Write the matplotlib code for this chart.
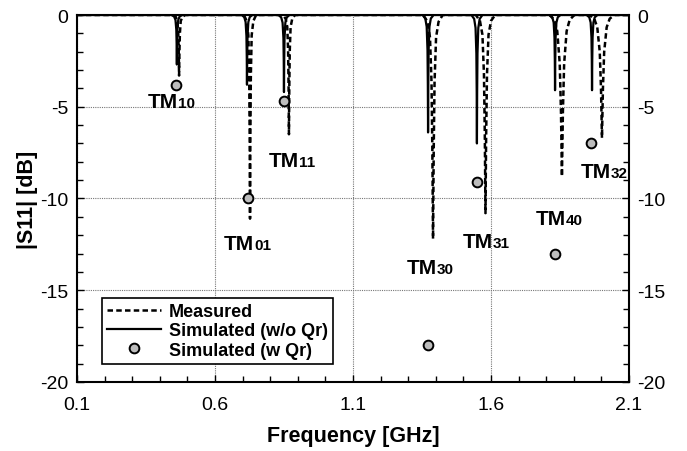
import matplotlib
matplotlib.use("Agg")
import matplotlib.pyplot as plt
from matplotlib.ticker import MultipleLocator

plt.rcParams['font.family'] = ['Liberation Sans', 'DejaVu Sans']
plt.rcParams['axes.unicode_minus'] = False

# measured |S11| (dashed)
meas_f = [0.100,
          0.448, 0.458, 0.464, 0.467, 0.4687, 0.470, 0.4713, 0.473, 0.476, 0.482, 0.492,
          0.705, 0.715, 0.721, 0.724, 0.7257, 0.727, 0.7283, 0.730, 0.733, 0.739, 0.749,
          0.846, 0.856, 0.862, 0.865, 0.8667, 0.868, 0.8693, 0.871, 0.874, 0.880, 0.890,
          1.355, 1.370, 1.379, 1.3845, 1.3875, 1.390, 1.3925, 1.3955, 1.401, 1.410, 1.425,
          1.545, 1.560, 1.569, 1.5745, 1.5775, 1.580, 1.5825, 1.5855, 1.591, 1.600, 1.615,
          1.812, 1.829, 1.840, 1.849, 1.8535, 1.857, 1.8605, 1.865, 1.874, 1.885, 1.902,
          1.957, 1.974, 1.985, 1.994, 1.9985, 2.002, 2.0055, 2.010, 2.019, 2.030, 2.047,
          2.100]
meas_db = [0,
           0, -0.10, -0.33, -0.99, -1.98, -3.3, -1.98, -0.99, -0.33, -0.10, 0,
           0, -0.33, -1.11, -3.33, -6.66, -11.1, -6.66, -3.33, -1.11, -0.33, 0,
           0, -0.20, -0.65, -1.95, -3.90, -6.5, -3.90, -1.95, -0.65, -0.20, 0,
           0, -0.37, -1.22, -3.66, -7.32, -12.2, -7.32, -3.66, -1.22, -0.37, 0,
           0, -0.32, -1.08, -3.24, -6.48, -10.8, -6.48, -3.24, -1.08, -0.32, 0,
           0, -0.26, -0.88, -2.64, -5.28, -8.8, -5.28, -2.64, -0.88, -0.26, 0,
           0, -0.20, -0.67, -2.01, -4.02, -6.7, -4.02, -2.01, -0.67, -0.20, 0,
           0]

# simulated without Qr (solid)
sim_f = [0.100,
         0.442, 0.452, 0.457, 0.460, 0.4612, 0.462, 0.4628, 0.464, 0.467, 0.472, 0.482,
         0.696, 0.706, 0.711, 0.714, 0.7152, 0.716, 0.7168, 0.718, 0.721, 0.726, 0.736,
         0.830, 0.840, 0.845, 0.848, 0.8492, 0.850, 0.8508, 0.852, 0.855, 0.860, 0.870,
         1.352, 1.362, 1.367, 1.370, 1.3712, 1.372, 1.3728, 1.374, 1.377, 1.382, 1.392,
         1.529, 1.539, 1.544, 1.547, 1.5482, 1.549, 1.5498, 1.551, 1.554, 1.559, 1.569,
         1.812, 1.822, 1.827, 1.830, 1.8312, 1.832, 1.8328, 1.834, 1.837, 1.842, 1.852,
         1.946, 1.956, 1.961, 1.964, 1.9652, 1.966, 1.9668, 1.968, 1.971, 1.976, 1.986,
         2.100]
sim_db = [0,
          0, -0.08, -0.27, -0.81, -1.62, -2.7, -1.62, -0.81, -0.27, -0.08, 0,
          0, -0.11, -0.38, -1.14, -2.28, -3.8, -2.28, -1.14, -0.38, -0.11, 0,
          0, -0.13, -0.42, -1.26, -2.52, -4.2, -2.52, -1.26, -0.42, -0.13, 0,
          0, -0.19, -0.64, -1.92, -3.84, -6.4, -3.84, -1.92, -0.64, -0.19, 0,
          0, -0.21, -0.70, -2.10, -4.20, -7.0, -4.20, -2.10, -0.70, -0.21, 0,
          0, -0.12, -0.41, -1.23, -2.46, -4.1, -2.46, -1.23, -0.41, -0.12, 0,
          0, -0.12, -0.41, -1.23, -2.46, -4.1, -2.46, -1.23, -0.41, -0.12, 0,
          0]

# simulated with Qr (points)
modes = ['10', '01', '11', '30', '31', '40', '32']
qr_f = [0.459, 0.720, 0.850, 1.372, 1.549, 1.832, 1.962]
qr_db = [-3.8, -10.0, -4.7, -18.0, -9.1, -13.0, -7.0]

# mode label anchor (where "TM" ends and the index starts)
lab_f = [0.466, 0.741, 0.904, 1.404, 1.607, 1.872, 2.035]
lab_db = [-5.01, -12.75, -8.23, -14.06, -12.64, -11.39, -8.83]

fig = plt.figure(figsize=(6.87, 4.52), dpi=100)
ax = fig.add_axes([0.112, 0.1527, 0.8036, 0.8119])

ax.plot(meas_f, meas_db, color='black', lw=1.8, linestyle=(0, (2.2, 1.3)),
        label='Measured', zorder=3)
ax.plot(sim_f, sim_db, color='black', lw=1.6, label='Simulated (w/o Qr)', zorder=3)
ax.plot(qr_f, qr_db, 'o', ms=7, mfc='#bdbdbd', mec='black', mew=1.4,
        label='Simulated (w Qr)', zorder=4)

for m, f, d in zip(modes, lab_f, lab_db):
    ax.text(f, d, 'TM', ha='right', va='baseline', fontsize=15, fontweight='bold')
    ax.text(f, d, m, ha='left', va='baseline', fontsize=11, fontweight='bold')

ax.set_xlim(0.1, 2.1)
ax.set_ylim(-20, 0)
ax.xaxis.set_major_locator(MultipleLocator(0.5))
ax.xaxis.set_minor_locator(MultipleLocator(0.1))
ax.yaxis.set_major_locator(MultipleLocator(5))
ax.yaxis.set_minor_locator(MultipleLocator(1))
ax.set_xticks([0.1, 0.6, 1.1, 1.6, 2.1])
ax.set_xticklabels(['0.1', '0.6', '1.1', '1.6', '2.1'])
ax.tick_params(which='both', direction='in', right=True, labelright=True,
               labelsize=14)
ax.tick_params(axis='x', pad=10)
ax.tick_params(axis='y', pad=6)
ax.tick_params(which='major', length=5, width=1)
ax.tick_params(which='minor', length=4, width=1)
ax.grid(True, which='major', linestyle=(0, (1, 1)), color='#777777', lw=0.8)
for s in ax.spines.values():
    s.set_linewidth(1.5)

ax.set_xlabel('Frequency [GHz]', fontsize=15.5, fontweight='bold', labelpad=9)
ax.set_ylabel('|S11| [dB]', fontsize=15.5, fontweight='bold', labelpad=2)

leg = ax.legend(loc='lower left', bbox_to_anchor=(0.045, 0.049),
                prop={'weight': 'bold', 'size': 13}, frameon=True, fancybox=False,
                framealpha=1, edgecolor='black', borderpad=0.3, labelspacing=0.12,
                handlelength=3.0, handletextpad=0.4, borderaxespad=0)
leg.get_frame().set_linewidth(1.2)

fig.savefig('out.png', dpi=100)
